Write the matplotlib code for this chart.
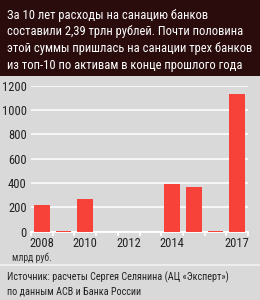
import matplotlib.pyplot as plt
from matplotlib.patches import Rectangle
from matplotlib.ticker import FixedLocator

# Data (bn rubles spent on bank bailouts by year)
years = [2008, 2009, 2010, 2011, 2012, 2013, 2014, 2015, 2016, 2017]
values = [219, 6, 268, 0, 0, 0, 392, 370, 6, 1132]
tick_years = ["2008", "", "2010", "", "2012", "", "2014", "", "", "2017"]

title_lines = [
    "За 10 лет расходы на санацию банков",
    "составили 2,39 трлн рублей. Почти половина",
    "этой суммы пришлась на санации трех банков",
    "из топ-10 по активам в конце прошлого года",
]
unit = "млрд руб."
source_lines = [
    "Источник: расчеты Сергея Селянина (АЦ «Эксперт»)",
    "по данным АСВ и Банка России",
]

BG = "#d9d9d9"
HEADER = "#2a0c0c"
RED = "#f7423a"
FONT = ["Roboto Condensed", "DejaVu Sans"]

W, H = 260, 300
fig = plt.figure(figsize=(W / 100, H / 100), dpi=100)
fig.patch.set_facecolor(BG)

# Header
fig.patches.append(Rectangle((0, 1 - 76 / H), 1, 76 / H, transform=fig.transFigure,
                             facecolor=HEADER, edgecolor="none", zorder=0))
for i, line in enumerate(title_lines):
    fig.text(7 / W, 1 - (15 + 16.8 * i) / H, line, color="white", fontsize=9.0,
             family=FONT, va="center", ha="left")

# Chart
ax = fig.add_axes([31 / W, 1 - 231.7 / H, 217 / W, 146 / H])
ax.set_facecolor(BG)
x = range(len(years))
ax.bar(x, values, width=0.72, color=RED, zorder=3)
ax.set_xlim(-0.5, len(years) - 0.5)
ax.set_ylim(0, 1200)
ax.set_yticks(range(0, 1201, 200))
ax.yaxis.grid(True, color="white", linewidth=1.1, zorder=0)
ax.set_axisbelow(True)
for s in ["top", "right", "left"]:
    ax.spines[s].set_visible(False)
ax.spines["bottom"].set_color("white")
ax.spines["bottom"].set_linewidth(1.3)

ax.set_xticks(list(x))
ax.set_xticklabels(tick_years)
ax.xaxis.set_minor_locator(FixedLocator([i - 0.5 for i in range(len(years) + 1)]))
ax.tick_params(axis="x", which="major", length=0, pad=4, labelsize=9, labelcolor="#222222")
ax.tick_params(axis="x", which="minor", length=3, color="white", width=1.2)
ax.tick_params(axis="y", length=0, pad=3, labelsize=9, labelcolor="#222222")
for lab in ax.get_xticklabels() + ax.get_yticklabels():
    lab.set_family(FONT)

# Footer
fig.text(12 / W, 1 - 258 / H, unit, color="#333333", fontsize=7, family=FONT,
         va="center", ha="left")
fig.add_artist(plt.Line2D([0, 1], [1 - 265 / H] * 2, color="#f2f2f2", linewidth=1.2))
for i, line in enumerate(source_lines):
    fig.text(7 / W, 1 - (277 + 15 * i) / H, line, color="#222222", fontsize=7.3,
             family=FONT, va="center", ha="left")

fig.savefig("out.png", dpi=100, facecolor=BG)
